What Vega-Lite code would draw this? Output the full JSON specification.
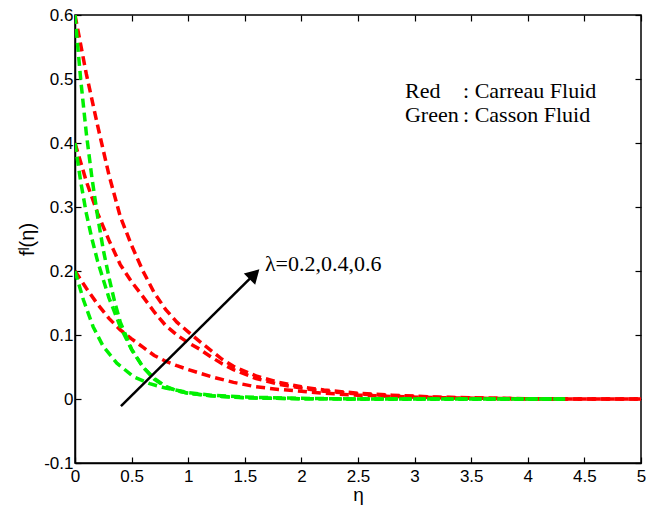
{
  "$schema": "https://vega.github.io/schema/vega-lite/v6.json",
  "autosize": "none",
  "width": 566,
  "height": 448,
  "padding": {"left": 75, "top": 15, "right": 5, "bottom": 52},
  "background": "white",
  "config": {
    "view": {"stroke": "black", "strokeWidth": 1.5},
    "axis": {
      "grid": false,
      "domainColor": "black",
      "domainWidth": 1.5,
      "tickColor": "black",
      "tickWidth": 1.2,
      "labelFont": "Liberation Sans",
      "labelFontSize": 17,
      "labelColor": "black",
      "labelFlush": false,
      "labelOverlap": false,
      "titleFont": "Liberation Sans",
      "titleFontSize": 20,
      "titleFontWeight": "normal",
      "titleColor": "black"
    }
  },
  "resolve": {"axis": {"x": "independent", "y": "independent"}},
  "datasets": {
    "curves": [
      {"curve":"r6","fluid":"Red","eta":0,"f":0.6},{"curve":"r6","fluid":"Red","eta":0.1,"f":0.508},{"curve":"r6","fluid":"Red","eta":0.2,"f":0.427},{"curve":"r6","fluid":"Red","eta":0.3,"f":0.35},{"curve":"r6","fluid":"Red","eta":0.4,"f":0.285},{"curve":"r6","fluid":"Red","eta":0.5,"f":0.24},{"curve":"r6","fluid":"Red","eta":0.6,"f":0.2},{"curve":"r6","fluid":"Red","eta":0.7,"f":0.166},{"curve":"r6","fluid":"Red","eta":0.8,"f":0.14},{"curve":"r6","fluid":"Red","eta":0.9,"f":0.12},{"curve":"r6","fluid":"Red","eta":1.0,"f":0.105},{"curve":"r6","fluid":"Red","eta":1.1,"f":0.09},{"curve":"r6","fluid":"Red","eta":1.2,"f":0.076},{"curve":"r6","fluid":"Red","eta":1.3,"f":0.062},{"curve":"r6","fluid":"Red","eta":1.4,"f":0.051},{"curve":"r6","fluid":"Red","eta":1.6,"f":0.036},{"curve":"r6","fluid":"Red","eta":1.8,"f":0.026},{"curve":"r6","fluid":"Red","eta":2.0,"f":0.019},{"curve":"r6","fluid":"Red","eta":2.2,"f":0.014},{"curve":"r6","fluid":"Red","eta":2.5,"f":0.009},{"curve":"r6","fluid":"Red","eta":2.8,"f":0.006},{"curve":"r6","fluid":"Red","eta":3.2,"f":0.003},{"curve":"r6","fluid":"Red","eta":3.6,"f":0.0015},{"curve":"r6","fluid":"Red","eta":4.0,"f":0.0005},{"curve":"r6","fluid":"Red","eta":4.4,"f":0},{"curve":"r6","fluid":"Red","eta":5,"f":0},
      {"curve":"r4","fluid":"Red","eta":0,"f":0.4},{"curve":"r4","fluid":"Red","eta":0.1,"f":0.34},{"curve":"r4","fluid":"Red","eta":0.2,"f":0.29},{"curve":"r4","fluid":"Red","eta":0.3,"f":0.248},{"curve":"r4","fluid":"Red","eta":0.4,"f":0.21},{"curve":"r4","fluid":"Red","eta":0.5,"f":0.183},{"curve":"r4","fluid":"Red","eta":0.6,"f":0.16},{"curve":"r4","fluid":"Red","eta":0.7,"f":0.136},{"curve":"r4","fluid":"Red","eta":0.8,"f":0.115},{"curve":"r4","fluid":"Red","eta":0.9,"f":0.1},{"curve":"r4","fluid":"Red","eta":1.0,"f":0.088},{"curve":"r4","fluid":"Red","eta":1.1,"f":0.078},{"curve":"r4","fluid":"Red","eta":1.2,"f":0.066},{"curve":"r4","fluid":"Red","eta":1.3,"f":0.055},{"curve":"r4","fluid":"Red","eta":1.4,"f":0.046},{"curve":"r4","fluid":"Red","eta":1.6,"f":0.032},{"curve":"r4","fluid":"Red","eta":1.8,"f":0.023},{"curve":"r4","fluid":"Red","eta":2.0,"f":0.017},{"curve":"r4","fluid":"Red","eta":2.2,"f":0.012},{"curve":"r4","fluid":"Red","eta":2.5,"f":0.008},{"curve":"r4","fluid":"Red","eta":2.8,"f":0.005},{"curve":"r4","fluid":"Red","eta":3.2,"f":0.0025},{"curve":"r4","fluid":"Red","eta":3.6,"f":0.001},{"curve":"r4","fluid":"Red","eta":4.0,"f":0.0003},{"curve":"r4","fluid":"Red","eta":4.4,"f":0},{"curve":"r4","fluid":"Red","eta":5,"f":0},
      {"curve":"r2","fluid":"Red","eta":0,"f":0.2},{"curve":"r2","fluid":"Red","eta":0.1,"f":0.173},{"curve":"r2","fluid":"Red","eta":0.2,"f":0.148},{"curve":"r2","fluid":"Red","eta":0.3,"f":0.126},{"curve":"r2","fluid":"Red","eta":0.4,"f":0.108},{"curve":"r2","fluid":"Red","eta":0.5,"f":0.094},{"curve":"r2","fluid":"Red","eta":0.6,"f":0.081},{"curve":"r2","fluid":"Red","eta":0.7,"f":0.068},{"curve":"r2","fluid":"Red","eta":0.8,"f":0.059},{"curve":"r2","fluid":"Red","eta":0.9,"f":0.052},{"curve":"r2","fluid":"Red","eta":1.0,"f":0.046},{"curve":"r2","fluid":"Red","eta":1.2,"f":0.035},{"curve":"r2","fluid":"Red","eta":1.4,"f":0.026},{"curve":"r2","fluid":"Red","eta":1.6,"f":0.019},{"curve":"r2","fluid":"Red","eta":1.8,"f":0.015},{"curve":"r2","fluid":"Red","eta":2.0,"f":0.012},{"curve":"r2","fluid":"Red","eta":2.2,"f":0.009},{"curve":"r2","fluid":"Red","eta":2.5,"f":0.006},{"curve":"r2","fluid":"Red","eta":2.8,"f":0.004},{"curve":"r2","fluid":"Red","eta":3.2,"f":0.002},{"curve":"r2","fluid":"Red","eta":3.6,"f":0.001},{"curve":"r2","fluid":"Red","eta":4.0,"f":0.0003},{"curve":"r2","fluid":"Red","eta":4.4,"f":0},{"curve":"r2","fluid":"Red","eta":5,"f":0},
      {"curve":"g6","fluid":"Green","eta":0,"f":0.6},{"curve":"g6","fluid":"Green","eta":0.05,"f":0.5},{"curve":"g6","fluid":"Green","eta":0.1,"f":0.415},{"curve":"g6","fluid":"Green","eta":0.15,"f":0.345},{"curve":"g6","fluid":"Green","eta":0.2,"f":0.285},{"curve":"g6","fluid":"Green","eta":0.25,"f":0.233},{"curve":"g6","fluid":"Green","eta":0.3,"f":0.19},{"curve":"g6","fluid":"Green","eta":0.35,"f":0.152},{"curve":"g6","fluid":"Green","eta":0.4,"f":0.12},{"curve":"g6","fluid":"Green","eta":0.5,"f":0.078},{"curve":"g6","fluid":"Green","eta":0.6,"f":0.05},{"curve":"g6","fluid":"Green","eta":0.7,"f":0.032},{"curve":"g6","fluid":"Green","eta":0.8,"f":0.02},{"curve":"g6","fluid":"Green","eta":0.9,"f":0.013},{"curve":"g6","fluid":"Green","eta":1.0,"f":0.009},{"curve":"g6","fluid":"Green","eta":1.2,"f":0.005},{"curve":"g6","fluid":"Green","eta":1.5,"f":0.002},{"curve":"g6","fluid":"Green","eta":2.0,"f":0.0005},{"curve":"g6","fluid":"Green","eta":2.5,"f":0},{"curve":"g6","fluid":"Green","eta":4.33,"f":0},
      {"curve":"g4","fluid":"Green","eta":0,"f":0.4},{"curve":"g4","fluid":"Green","eta":0.05,"f":0.34},{"curve":"g4","fluid":"Green","eta":0.1,"f":0.29},{"curve":"g4","fluid":"Green","eta":0.15,"f":0.25},{"curve":"g4","fluid":"Green","eta":0.2,"f":0.215},{"curve":"g4","fluid":"Green","eta":0.3,"f":0.158},{"curve":"g4","fluid":"Green","eta":0.4,"f":0.113},{"curve":"g4","fluid":"Green","eta":0.5,"f":0.077},{"curve":"g4","fluid":"Green","eta":0.6,"f":0.05},{"curve":"g4","fluid":"Green","eta":0.7,"f":0.031},{"curve":"g4","fluid":"Green","eta":0.8,"f":0.019},{"curve":"g4","fluid":"Green","eta":0.9,"f":0.013},{"curve":"g4","fluid":"Green","eta":1.0,"f":0.009},{"curve":"g4","fluid":"Green","eta":1.2,"f":0.005},{"curve":"g4","fluid":"Green","eta":1.5,"f":0.002},{"curve":"g4","fluid":"Green","eta":2.0,"f":0.0005},{"curve":"g4","fluid":"Green","eta":2.5,"f":0},{"curve":"g4","fluid":"Green","eta":4.33,"f":0},
      {"curve":"g2","fluid":"Green","eta":0,"f":0.2},{"curve":"g2","fluid":"Green","eta":0.074,"f":0.155},{"curve":"g2","fluid":"Green","eta":0.16,"f":0.113},{"curve":"g2","fluid":"Green","eta":0.25,"f":0.082},{"curve":"g2","fluid":"Green","eta":0.37,"f":0.056},{"curve":"g2","fluid":"Green","eta":0.515,"f":0.035},{"curve":"g2","fluid":"Green","eta":0.66,"f":0.024},{"curve":"g2","fluid":"Green","eta":0.8,"f":0.017},{"curve":"g2","fluid":"Green","eta":1.0,"f":0.01},{"curve":"g2","fluid":"Green","eta":1.2,"f":0.006},{"curve":"g2","fluid":"Green","eta":1.5,"f":0.003},{"curve":"g2","fluid":"Green","eta":2.0,"f":0.001},{"curve":"g2","fluid":"Green","eta":2.5,"f":0},{"curve":"g2","fluid":"Green","eta":4.33,"f":0}
    ],
    "arrow": [{"eta":0.406,"f":-0.011,"eta2":1.585,"f2":0.195}],
    "head": [{"eta":1.585,"f":0.195}],
    "labels": [
      {"eta":1.678,"f":0.2104,"label":"λ=0.2,0.4,0.6"},
      {"eta":2.915,"f":0.4817,"label":"Red"},
      {"eta":3.428,"f":0.4817,"label":": Carreau Fluid"},
      {"eta":2.915,"f":0.4437,"label":"Green"},
      {"eta":3.428,"f":0.4437,"label":": Casson Fluid"}
    ]
  },
  "layer": [
    {
      "data": {"name": "curves"},
      "mark": {"type": "line", "strokeWidth": 3.5, "strokeDash": [9, 5], "clip": true},
      "encoding": {
        "x": {"field": "eta", "type": "quantitative", "scale": {"domain": [0, 5], "nice": false, "zero": false},
          "axis": {"orient": "bottom", "title": "η", "titleFontSize": 19, "values": [0,0.5,1,1.5,2,2.5,3,3.5,4,4.5,5], "labelExpr": "'' + datum.value", "tickSize": -6, "labelPadding": 11, "titlePadding": 1}},
        "y": {"field": "f", "type": "quantitative", "scale": {"domain": [-0.1, 0.6], "nice": false, "zero": false},
          "axis": {"orient": "left", "title": "fˡ(η)", "values": [-0.1,0,0.1,0.2,0.3,0.4,0.5,0.6], "labelExpr": "'' + datum.value", "tickSize": -6, "labelPadding": 8, "titlePadding": 6}},
        "detail": {"field": "curve"},
        "order": {"field": "eta", "type": "quantitative"},
        "color": {"field": "fluid", "type": "nominal", "scale": {"domain": ["Red", "Green"], "range": ["#ff0000", "#00f000"]}, "legend": null}
      }
    },
    {
      "data": {"name": "arrow"},
      "mark": {"type": "rule", "color": "black", "strokeWidth": 2.5},
      "encoding": {
        "x": {"field": "eta", "type": "quantitative", "axis": {"orient": "top", "labels": false, "title": null, "tickSize": -6, "domain": false, "values": [0,0.5,1,1.5,2,2.5,3,3.5,4,4.5,5]}},
        "y": {"field": "f", "type": "quantitative", "axis": {"orient": "right", "labels": false, "title": null, "tickSize": -6, "domain": false, "values": [-0.1,0,0.1,0.2,0.3,0.4,0.5,0.6]}},
        "x2": {"field": "eta2"},
        "y2": {"field": "f2"}
      }
    },
    {
      "data": {"name": "head"},
      "mark": {"type": "point", "shape": "triangle-up", "filled": true, "color": "black", "size": 260, "angle": 45, "opacity": 1},
      "encoding": {
        "x": {"field": "eta", "type": "quantitative", "axis": null},
        "y": {"field": "f", "type": "quantitative", "axis": null}
      }
    },
    {
      "data": {"name": "labels"},
      "mark": {"type": "text", "font": "Liberation Serif", "fontSize": 22, "align": "left", "baseline": "middle", "color": "black"},
      "encoding": {
        "x": {"field": "eta", "type": "quantitative", "axis": null},
        "y": {"field": "f", "type": "quantitative", "axis": null},
        "text": {"field": "label"}
      }
    }
  ]
}
